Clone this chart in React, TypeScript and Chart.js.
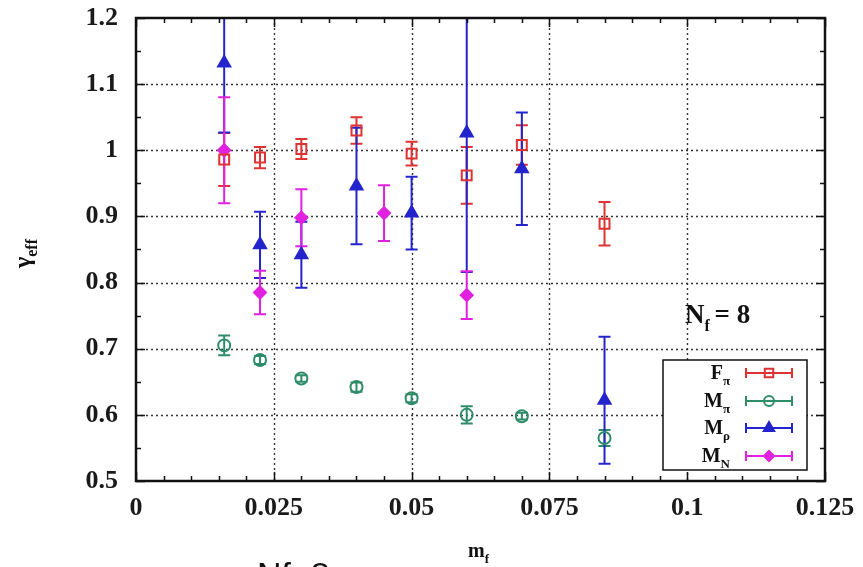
import { useEffect, useRef } from "react";
import { Chart, registerables } from "chart.js";

Chart.register(...registerables);

// Axis ticks
const xTicks = [0, 0.025, 0.05, 0.075, 0.1, 0.125];
const xTickLabels = ["0", "0.025", "0.05", "0.075", "0.1", "0.125"];
const yTicks = [0.5, 0.6, 0.7, 0.8, 0.9, 1.0, 1.1, 1.2];
const yTickLabels = ["0.5", "0.6", "0.7", "0.8", "0.9", "1", "1.1", "1.2"];

// F_pi
const fpiMf = [0.016, 0.0225, 0.03, 0.04, 0.05, 0.06, 0.07, 0.085];
const fpiVal = [0.986, 0.989, 1.002, 1.03, 0.995, 0.962, 1.008, 0.889];
const fpiErr = [0.04, 0.016, 0.015, 0.02, 0.018, 0.043, 0.03, 0.033];

// M_pi
const mpiMf = [0.016, 0.0225, 0.03, 0.04, 0.05, 0.06, 0.07, 0.085];
const mpiVal = [0.705, 0.683, 0.655, 0.642, 0.625, 0.6, 0.598, 0.565];
const mpiErr = [0.015, 0.006, 0.005, 0.007, 0.006, 0.013, 0.005, 0.012];

// M_rho
const mrhoMf = [0.016, 0.0225, 0.03, 0.04, 0.05, 0.06, 0.07, 0.085];
const mrhoVal = [1.132, 0.857, 0.842, 0.946, 0.905, 1.026, 0.972, 0.622];
const mrhoErr = [0.105, 0.05, 0.05, 0.088, 0.055, 0.21, 0.085, 0.096];

// M_N
const mnMf = [0.016, 0.0225, 0.03, 0.045, 0.06];
const mnVal = [1.0, 0.785, 0.898, 0.905, 0.781];
const mnErr = [0.08, 0.033, 0.043, 0.042, 0.036];

const series = [
  { main: "F", sub: "\u03c0", color: "#dd3333", style: "rect", radius: 7, filled: false, mf: fpiMf, val: fpiVal, err: fpiErr },
  { main: "M", sub: "\u03c0", color: "#2f8c69", style: "circle", radius: 6, filled: false, mf: mpiMf, val: mpiVal, err: mpiErr },
  { main: "M", sub: "\u03c1", color: "#2424cc", style: "triangle", radius: 7, filled: true, mf: mrhoMf, val: mrhoVal, err: mrhoErr },
  { main: "M", sub: "N", color: "#e022e0", style: "rectRot", radius: 6, filled: true, mf: mnMf, val: mnVal, err: mnErr },
];

const SERIF = "'Liberation Serif', 'Times New Roman', serif";

function subText(ctx: CanvasRenderingContext2D, x: number, y: number, main: string, sub: string, size: number, subSize: number, align: "left" | "right") {
  ctx.font = `bold ${size}px ${SERIF}`;
  const wm = ctx.measureText(main).width;
  ctx.font = `bold ${subSize}px ${SERIF}`;
  const ws = ctx.measureText(sub).width;
  const x0 = align === "right" ? x - wm - ws : x;
  ctx.textAlign = "left";
  ctx.textBaseline = "alphabetic";
  ctx.font = `bold ${size}px ${SERIF}`;
  ctx.fillText(main, x0, y);
  ctx.font = `bold ${subSize}px ${SERIF}`;
  ctx.fillText(sub, x0 + wm, y + size * 0.3);
  return x0 + wm + ws;
}

// legend sample marker, same shapes as the plotted points
function drawMarker(ctx: CanvasRenderingContext2D, style: string, x: number, y: number, r: number, color: string, filled: boolean) {
  ctx.beginPath();
  if (style === "rect") {
    const h = r * Math.SQRT1_2;
    ctx.rect(x - h, y - h, 2 * h, 2 * h);
  } else if (style === "circle") {
    ctx.arc(x, y, r, 0, Math.PI * 2);
  } else if (style === "triangle") {
    ctx.moveTo(x, y - r);
    ctx.lineTo(x + r * 0.866, y + r * 0.5);
    ctx.lineTo(x - r * 0.866, y + r * 0.5);
    ctx.closePath();
  } else {
    ctx.moveTo(x, y - r);
    ctx.lineTo(x + r, y);
    ctx.lineTo(x, y + r);
    ctx.lineTo(x - r, y);
    ctx.closePath();
  }
  ctx.lineWidth = 2;
  ctx.strokeStyle = color;
  if (filled) {
    ctx.fillStyle = color;
    ctx.fill();
  }
  ctx.stroke();
}

const decorPlugin = {
  id: "decor",
  beforeDatasetsDraw(chart: any) {
    const { ctx, chartArea: a, scales } = chart;
    const xs = scales.x;
    const ys = scales.y;
    ctx.save();
    // dotted grid
    ctx.strokeStyle = "#333";
    ctx.lineWidth = 1.4;
    ctx.setLineDash([2, 3]);
    xTicks.slice(1, -1).forEach((v) => {
      const px = Math.round(xs.getPixelForValue(v)) + 0.5;
      ctx.beginPath();
      ctx.moveTo(px, a.top);
      ctx.lineTo(px, a.bottom);
      ctx.stroke();
    });
    yTicks.slice(1, -1).forEach((v) => {
      const py = Math.round(ys.getPixelForValue(v)) + 0.5;
      ctx.beginPath();
      ctx.moveTo(a.left, py);
      ctx.lineTo(a.right, py);
      ctx.stroke();
    });
    ctx.setLineDash([]);
    // error bars
    ctx.beginPath();
    ctx.rect(a.left, a.top, a.right - a.left, a.bottom - a.top);
    ctx.clip();
    series.forEach((s) => {
      ctx.strokeStyle = s.color;
      ctx.lineWidth = 2;
      s.mf.forEach((m, i) => {
        const px = xs.getPixelForValue(m);
        const pt = ys.getPixelForValue(s.val[i] + s.err[i]);
        const pb = ys.getPixelForValue(s.val[i] - s.err[i]);
        ctx.beginPath();
        ctx.moveTo(px, pt);
        ctx.lineTo(px, pb);
        ctx.moveTo(px - 6, pt);
        ctx.lineTo(px + 6, pt);
        ctx.moveTo(px - 6, pb);
        ctx.lineTo(px + 6, pb);
        ctx.stroke();
      });
    });
    ctx.restore();
  },
  afterDatasetsDraw(chart: any) {
    const { ctx, chartArea: a, scales } = chart;
    const xs = scales.x;
    const ys = scales.y;
    ctx.save();
    ctx.strokeStyle = "#111";
    // tick marks on all four sides
    ctx.lineWidth = 1.5;
    for (let k = 0; k <= 25; k++) {
      const v = k * 0.005;
      const px = Math.round(xs.getPixelForValue(v)) + 0.5;
      const len = k % 5 === 0 ? 9 : 5;
      ctx.beginPath();
      ctx.moveTo(px, a.bottom);
      ctx.lineTo(px, a.bottom - len);
      ctx.moveTo(px, a.top);
      ctx.lineTo(px, a.top + len);
      ctx.stroke();
    }
    for (let k = 0; k <= 14; k++) {
      const v = 0.5 + k * 0.05;
      const py = Math.round(ys.getPixelForValue(v)) + 0.5;
      const len = k % 2 === 0 ? 9 : 5;
      ctx.beginPath();
      ctx.moveTo(a.left, py);
      ctx.lineTo(a.left + len, py);
      ctx.moveTo(a.right, py);
      ctx.lineTo(a.right - len, py);
      ctx.stroke();
    }
    // frame
    ctx.lineWidth = 2.5;
    ctx.strokeRect(a.left, a.top, a.right - a.left, a.bottom - a.top);

    // legend box
    const bx = 663, by = 360, bw = 144, bh = 110;
    ctx.fillStyle = "#fff";
    ctx.fillRect(bx, by, bw, bh);
    ctx.lineWidth = 1.5;
    ctx.strokeStyle = "#111";
    ctx.strokeRect(bx, by, bw, bh);
    const rows = [373, 401, 428, 456];
    series.forEach((s, i) => {
      const y = rows[i];
      ctx.fillStyle = "#111";
      subText(ctx, 730, y + 6, s.main, s.sub, 20, 13, "right");
      ctx.strokeStyle = s.color;
      ctx.lineWidth = 2;
      ctx.beginPath();
      ctx.moveTo(746, y);
      ctx.lineTo(792, y);
      ctx.moveTo(746, y - 5);
      ctx.lineTo(746, y + 5);
      ctx.moveTo(792, y - 5);
      ctx.lineTo(792, y + 5);
      ctx.stroke();
      drawMarker(ctx, s.style, 769, y, s.radius - 1, s.color, s.filled);
    });

    // N_f = 8 annotation
    ctx.fillStyle = "#111";
    const endN = subText(ctx, 685, 323, "N", "f", 27, 16, "left");
    ctx.font = `bold 27px ${SERIF}`;
    ctx.fillText(" = 8", endN - 2, 323);

    // axis titles
    ctx.save();
    ctx.translate(30, 242);
    ctx.rotate(-Math.PI / 2);
    subText(ctx, -26, 0, "\u03b3", "eff", 24, 16, "left");
    ctx.restore();
    subText(ctx, 468, 557, "m", "f", 20, 13, "left");

    // caption below the plot
    ctx.font = "34px 'Liberation Sans', Arial, sans-serif";
    ctx.fillStyle = "#111";
    ctx.textAlign = "left";
    ctx.fillText("Nf=8", 257, 586);
    ctx.restore();
  },
};

export default function App() {
  const ref = useRef<HTMLCanvasElement>(null);
  useEffect(() => {
    if (!ref.current) return;
    const chart = new Chart(ref.current, {
      type: "scatter",
      data: {
        datasets: series.map((s) => ({
          label: s.main + s.sub,
          data: s.mf.map((m, i) => ({ x: m, y: s.val[i] })),
          pointStyle: s.style as any,
          pointRadius: s.radius,
          pointHoverRadius: s.radius,
          borderColor: s.color,
          backgroundColor: s.filled ? s.color : "rgba(255,255,255,0)",
          pointBorderWidth: 2,
          borderWidth: 2,
          clip: 0,
        })),
      },
      options: {
        animation: false,
        responsive: false,
        devicePixelRatio: 1,
        layout: { padding: { left: 0, top: 18, right: 38, bottom: 46 } },
        plugins: { legend: { display: false }, tooltip: { enabled: false } },
        scales: {
          x: {
            type: "linear",
            min: 0,
            max: 0.125,
            grid: { display: false, drawTicks: false },
            border: { display: false },
            afterBuildTicks: (sc: any) => {
              sc.ticks = xTicks.map((v) => ({ value: v }));
            },
            afterFit: (sc: any) => {
              sc.height = 40;
              sc.paddingLeft = 0;
              sc.paddingRight = 0;
            },
            ticks: {
              autoSkip: false,
              maxRotation: 0,
              padding: 12,
              color: "#1a1a1a",
              font: { family: SERIF, weight: "bold", size: 26 },
              callback: (_v: any, i: number) => xTickLabels[i],
            },
          },
          y: {
            type: "linear",
            min: 0.5,
            max: 1.2,
            grid: { display: false, drawTicks: false },
            border: { display: false },
            afterBuildTicks: (sc: any) => {
              sc.ticks = yTicks.map((v) => ({ value: v }));
            },
            afterFit: (sc: any) => {
              sc.width = 136;
              sc.paddingTop = 0;
              sc.paddingBottom = 0;
            },
            ticks: {
              autoSkip: false,
              padding: 18,
              color: "#1a1a1a",
              font: { family: SERIF, weight: "bold", size: 26 },
              callback: (_v: any, i: number) => yTickLabels[i],
            },
          },
        },
      },
      plugins: [decorPlugin],
    } as any);
    return () => chart.destroy();
  }, []);
  return (
    <div style={{ position: "fixed", left: 0, top: 0, width: 863, height: 567, background: "#fff" }}>
      <canvas ref={ref} width={863} height={567} style={{ width: 863, height: 567, display: "block" }} />
    </div>
  );
}
